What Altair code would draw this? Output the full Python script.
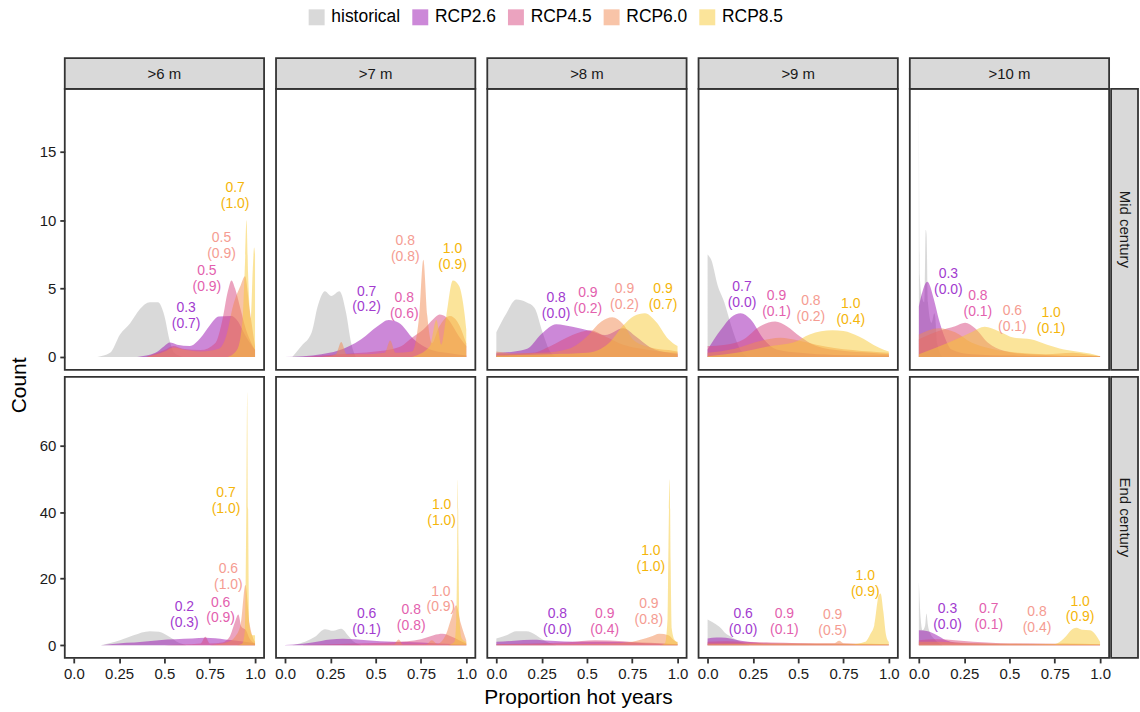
import altair as alt
import pandas as pd

THRESHOLDS = [">6 m", ">7 m", ">8 m", ">9 m", ">10 m"]
PERIODS = ["Mid century", "End century"]
SCENARIOS = ["historical", "RCP2.6", "RCP4.5", "RCP6.0", "RCP8.5"]
FILL_COLORS = ["#b3b3b3", "#9911b1", "#d7477f", "#f18951", "#f7c935"]
TEXT_COLORS = {"RCP2.6": "#a23bcf", "RCP4.5": "#e35fae", "RCP6.0": "#f59c92", "RCP8.5": "#f5b50a"}
Y_DOMAINS = {"Mid century": [-0.95, 19.6], "End century": [-3.85, 80.6]}
Y_TICKS = {"Mid century": [0, 5, 10, 15], "End century": [0, 20, 40, 60]}
X_TICKS = [0, 0.25, 0.5, 0.75, 1.0]

# ---- density curves: scenario -> (x values, counts) ----
MID_6 = {
    "historical": ([0.13, 0.2, 0.255, 0.31, 0.365, 0.42, 0.464, 0.5, 0.527, 0.554, 0.6],
                   [0, 0.3, 1.65, 2.45, 3.5, 4.0, 4.0, 3.0, 1.3, 0.3, 0]),
    "RCP2.6": ([0.35, 0.45, 0.5, 0.53, 0.57, 0.64, 0.7, 0.75, 0.8, 0.87, 0.9, 0.95, 1.0],
               [0, 0.3, 0.8, 1.05, 0.9, 0.8, 1.4, 2.3, 2.95, 3.0, 2.7, 1.5, 0.5]),
    "RCP4.5": ([0.4, 0.5, 0.55, 0.6, 0.7, 0.78, 0.82, 0.85, 0.87, 0.89, 0.92, 0.95, 0.98, 1.0],
               [0, 0.5, 0.8, 0.6, 0.5, 1.0, 2.7, 4.8, 5.6, 5.0, 3.5, 2.0, 1.0, 0.5]),
    "RCP6.0": ([0.4, 0.5, 0.55, 0.62, 0.7, 0.8, 0.84, 0.88, 0.92, 0.945, 0.97, 1.0],
               [0, 0.4, 0.7, 0.5, 0.4, 0.6, 1.5, 3.8, 5.2, 5.9, 3.5, 0.8]),
    "RCP8.5": ([0.85, 0.9, 0.93, 0.945, 0.953, 0.962, 0.976, 0.988, 0.995, 1.0],
               [0, 0.5, 2.5, 7.0, 10.0, 6.0, 2.8, 6.5, 8.0, 7.5]),
}
MID_7 = {
    "historical": ([0.04, 0.09, 0.147, 0.18, 0.22, 0.255, 0.30, 0.337, 0.364, 0.39],
                   [0, 0.8, 1.8, 3.7, 4.8, 4.45, 4.8, 3.2, 1.05, 0]),
    "RCP2.6": ([0.0, 0.1, 0.2, 0.29, 0.42, 0.51, 0.572, 0.627, 0.71, 0.8, 0.89, 1.0],
               [0, 0.05, 0.2, 0.45, 1.3, 2.25, 2.7, 2.5, 1.3, 0.55, 0.3, 0.1]),
    "RCP4.5": ([0.1, 0.3, 0.5, 0.6, 0.654, 0.70, 0.763, 0.82, 0.853, 0.89, 0.926, 0.96, 1.0],
               [0, 0.2, 0.4, 0.6, 0.9, 1.4, 2.0, 2.8, 3.1, 2.9, 2.25, 1.5, 0.8]),
    "RCP6.0": ([0.2, 0.28, 0.31, 0.34, 0.45, 0.55, 0.58, 0.61, 0.7, 0.74, 0.763, 0.785, 0.81, 0.85, 0.91, 0.95, 1.0],
               [0, 0.2, 1.1, 0.2, 0.2, 0.3, 1.2, 0.3, 0.4, 3.0, 7.1, 3.0, 1.0, 2.2, 3.0, 2.6, 1.0]),
    "RCP8.5": ([0.7, 0.8, 0.835, 0.862, 0.89, 0.926, 0.96, 0.99, 1.0],
               [0, 0.8, 2.7, 0.9, 3.0, 5.6, 5.2, 3.2, 2.0]),
}
MID_8 = {
    "historical": ([0.0, 0.056, 0.11, 0.165, 0.21, 0.255, 0.29, 0.33],
                   [1.8, 3.2, 4.2, 4.0, 3.6, 1.8, 0.55, 0]),
    "RCP2.6": ([0.0, 0.1, 0.17, 0.25, 0.33, 0.42, 0.52, 0.6, 0.7, 0.77, 0.85, 0.95, 1.0],
               [0.3, 0.4, 0.6, 1.7, 2.4, 2.2, 1.9, 1.6, 2.1, 1.5, 0.7, 0.3, 0.2]),
    "RCP4.5": ([0.0, 0.2, 0.3, 0.42, 0.52, 0.6, 0.7, 0.8, 0.9, 1.0],
               [0.2, 0.3, 0.8, 1.6, 1.95, 1.5, 0.9, 0.6, 0.4, 0.3]),
    "RCP6.0": ([0.0, 0.1, 0.25, 0.4, 0.5, 0.58, 0.64, 0.7, 0.76, 0.85, 0.95, 1.0],
               [0.4, 0.25, 0.3, 0.6, 1.5, 2.6, 2.9, 2.4, 1.2, 0.7, 0.5, 0.4]),
    "RCP8.5": ([0.0, 0.3, 0.5, 0.62, 0.7, 0.76, 0.82, 0.88, 0.95, 1.0],
               [0.1, 0.2, 0.3, 1.0, 2.3, 3.0, 3.2, 2.6, 1.3, 0.8]),
}
MID_9 = {
    "historical": ([0.0, 0.02, 0.056, 0.092, 0.13, 0.18, 0.22],
                   [7.5, 7.1, 5.2, 4.0, 2.3, 0.55, 0]),
    "RCP2.6": ([0.0, 0.074, 0.13, 0.183, 0.237, 0.31, 0.38, 0.51, 0.7, 1.0],
               [0.55, 2.0, 2.9, 3.2, 2.75, 1.3, 0.55, 0.3, 0.15, 0.1]),
    "RCP4.5": ([0.0, 0.1, 0.2, 0.29, 0.373, 0.437, 0.51, 0.6, 0.745, 0.9, 1.0],
               [0.8, 0.9, 1.3, 2.25, 2.6, 2.25, 1.5, 0.8, 0.45, 0.3, 0.2]),
    "RCP6.0": ([0.0, 0.15, 0.3, 0.4, 0.5, 0.6, 0.8, 1.0],
               [0.3, 0.6, 1.2, 1.4, 1.2, 0.9, 0.5, 0.3]),
    "RCP8.5": ([0.0, 0.2, 0.35, 0.473, 0.563, 0.69, 0.75, 0.835, 0.944, 1.0],
               [0.05, 0.4, 0.8, 1.05, 1.65, 1.95, 1.9, 1.5, 0.7, 0.4]),
}
MID_10 = {
    "historical": ([0.0, 0.005, 0.015, 0.03, 0.038, 0.042, 0.05, 0.07, 0.085, 0.09, 0.1, 0.13],
                   [18.6, 6.0, 4.5, 4.0, 9.3, 9.0, 4.0, 2.5, 3.2, 3.0, 1.0, 0]),
    "RCP2.6": ([0.0, 0.047, 0.083, 0.11, 0.147, 0.18, 0.29, 0.5, 1.0],
               [3.7, 5.5, 4.2, 2.75, 1.3, 0.55, 0.2, 0.1, 0.05]),
    "RCP4.5": ([0.0, 0.11, 0.2, 0.255, 0.31, 0.38, 0.47, 0.6, 1.0],
               [1.3, 1.9, 2.25, 2.5, 2.1, 1.05, 0.45, 0.2, 0.05]),
    "RCP6.0": ([0.0, 0.11, 0.2, 0.29, 0.4, 0.55, 0.7, 0.85, 0.92, 1.0],
               [1.65, 2.1, 1.8, 1.05, 0.6, 0.3, 0.2, 0.3, 0.2, 0.05]),
    "RCP8.5": ([0.0, 0.165, 0.29, 0.364, 0.437, 0.527, 0.618, 0.708, 0.8, 0.87, 0.944, 1.0],
               [0.2, 1.05, 1.8, 2.2, 1.9, 1.4, 1.3, 0.9, 0.55, 0.4, 0.25, 0.05]),
}
END_6 = {
    "historical": ([0.147, 0.255, 0.33, 0.42, 0.47, 0.527, 0.58, 0.62],
                   [0, 1.5, 3.0, 4.2, 4.0, 2.5, 0.7, 0]),
    "RCP2.6": ([0.15, 0.2, 0.38, 0.47, 0.654, 0.726, 0.835, 0.944, 1.0],
               [0, 0.3, 1.0, 1.5, 2.0, 2.2, 1.7, 1.0, 0.5]),
    "RCP4.5": ([0.5, 0.6, 0.7, 0.726, 0.75, 0.82, 0.86, 0.89, 0.908, 0.925, 0.95, 0.97, 1.0],
               [0, 0.2, 0.5, 2.5, 0.5, 0.8, 2.5, 7.0, 9.2, 5.5, 4.5, 2.0, 0.5]),
    "RCP6.0": ([0.75, 0.853, 0.89, 0.922, 0.947, 0.97, 0.995, 1.0],
               [0, 1.0, 2.5, 6.5, 18.1, 6.5, 1.5, 1.0]),
    "RCP8.5": ([0.9, 0.93, 0.945, 0.952, 0.957, 0.962, 0.968, 0.985, 1.0],
               [0, 0.5, 5.0, 40.0, 76.0, 40.0, 6.0, 3.0, 3.0]),
}
END_7 = {
    "historical": ([0.04, 0.11, 0.165, 0.22, 0.265, 0.31, 0.346, 0.38, 0.42],
                   [0, 1.0, 2.5, 4.8, 4.3, 4.9, 3.0, 1.0, 0]),
    "RCP2.6": ([0.0, 0.05, 0.15, 0.25, 0.32, 0.45, 0.6, 0.75, 0.85, 1.0],
               [0.05, 0.2, 0.8, 1.7, 1.9, 1.5, 1.0, 0.8, 0.5, 0.2]),
    "RCP4.5": ([0.1, 0.2, 0.4, 0.6, 0.75, 0.82, 0.87, 0.92, 0.96, 1.0],
               [0.05, 0.2, 0.5, 0.9, 1.8, 3.0, 3.4, 2.5, 1.5, 0.5]),
    "RCP6.0": ([0.3, 0.6, 0.627, 0.65, 0.78, 0.81, 0.84, 0.89, 0.917, 0.944, 0.97, 1.0],
               [0, 0.2, 1.7, 0.2, 0.3, 1.5, 0.4, 3.5, 8.0, 12.0, 6.5, 1.5]),
    "RCP8.5": ([0.9, 0.935, 0.945, 0.95, 0.953, 0.957, 0.962, 0.975, 1.0],
               [0, 1.0, 8.0, 30.0, 49.8, 30.0, 8.0, 2.0, 1.0]),
}
END_8 = {
    "historical": ([0.0, 0.056, 0.11, 0.165, 0.22, 0.255, 0.29, 0.33],
                   [2.0, 3.0, 4.2, 4.2, 3.0, 1.7, 0.7, 0]),
    "RCP2.6": ([0.0, 0.1, 0.2, 0.3, 0.45, 0.6, 0.75, 0.9, 1.0],
               [1.0, 1.3, 1.6, 1.3, 1.0, 1.0, 0.8, 0.4, 0.2]),
    "RCP4.5": ([0.0, 0.2, 0.4, 0.545, 0.7, 0.8, 0.9, 1.0],
               [0.3, 0.5, 0.9, 1.5, 1.2, 0.8, 0.6, 0.3]),
    "RCP6.0": ([0.0, 0.4, 0.6, 0.75, 0.85, 0.9, 0.95, 0.98, 1.0],
               [0.2, 0.3, 0.4, 1.0, 2.5, 3.4, 3.0, 1.5, 0.8]),
    "RCP8.5": ([0.9, 0.93, 0.945, 0.95, 0.957, 0.962, 0.968, 0.985, 1.0],
               [0, 0.5, 8.0, 30.0, 49.8, 25.0, 5.0, 1.5, 1.0]),
}
END_9 = {
    "historical": ([0.0, 0.03, 0.065, 0.1, 0.13, 0.18, 0.23],
                   [7.7, 6.8, 5.5, 3.5, 2.5, 1.0, 0]),
    "RCP2.6": ([0.0, 0.05, 0.1, 0.15, 0.22, 0.3, 0.5, 0.7, 1.0],
               [2.0, 2.3, 2.2, 1.7, 1.0, 0.6, 0.4, 0.3, 0.2]),
    "RCP4.5": ([0.0, 0.1, 0.2, 0.35, 0.5, 0.7, 1.0],
               [1.0, 1.2, 1.0, 0.8, 0.6, 0.5, 0.2]),
    "RCP6.0": ([0.0, 0.2, 0.5, 0.7, 0.726, 0.75, 0.9, 1.0],
               [0.5, 0.5, 0.6, 0.6, 1.3, 0.6, 0.4, 0.2]),
    "RCP8.5": ([0.0, 0.5, 0.8, 0.87, 0.9, 0.92, 0.945, 0.955, 0.97, 0.985, 1.0],
               [0.1, 0.2, 0.3, 1.0, 3.5, 6.0, 15.0, 15.5, 10.0, 3.0, 1.0]),
}
END_10 = {
    "historical": ([0.0, 0.01, 0.02, 0.035, 0.042, 0.05, 0.056, 0.092, 0.13],
                   [18.9, 8.0, 4.5, 6.0, 9.5, 6.0, 4.5, 1.5, 0]),
    "RCP2.6": ([0.0, 0.05, 0.1, 0.15, 0.2, 0.3, 0.5, 1.0],
               [4.5, 4.2, 3.0, 1.5, 0.8, 0.5, 0.3, 0.1]),
    "RCP4.5": ([0.0, 0.1, 0.2, 0.3, 0.4, 0.5, 0.7, 1.0],
               [1.5, 1.8, 1.5, 1.0, 0.7, 0.5, 0.4, 0.2]),
    "RCP6.0": ([0.0, 0.1, 0.2, 0.35, 0.5, 0.7, 0.8, 1.0],
               [1.0, 1.0, 0.8, 0.6, 0.5, 0.4, 0.5, 0.3]),
    "RCP8.5": ([0.0, 0.5, 0.75, 0.8, 0.853, 0.87, 0.9, 0.944, 0.97, 1.0],
               [0.1, 0.2, 0.3, 2.0, 5.0, 5.2, 4.6, 4.5, 3.5, 1.0]),
}

# ---- annotations: scenario -> (x, count, text) ----
LAB_MID_6 = {"RCP2.6": (0.62, 3.0, "0.3\n(0.7)"), "RCP4.5": (0.734, 5.7, "0.5\n(0.9)"),
             "RCP6.0": (0.815, 8.1, "0.5\n(0.9)"), "RCP8.5": (0.89, 11.8, "0.7\n(1.0)")}
LAB_MID_7 = {"RCP2.6": (0.45, 4.2, "0.7\n(0.2)"), "RCP4.5": (0.658, 3.7, "0.8\n(0.6)"),
             "RCP6.0": (0.663, 7.9, "0.8\n(0.8)"), "RCP8.5": (0.924, 7.3, "1.0\n(0.9)")}
LAB_MID_8 = {"RCP2.6": (0.33, 3.7, "0.8\n(0.0)"), "RCP4.5": (0.505, 4.1, "0.9\n(0.2)"),
             "RCP6.0": (0.707, 4.4, "0.9\n(0.2)"), "RCP8.5": (0.92, 4.4, "0.9\n(0.7)")}
LAB_MID_9 = {"RCP2.6": (0.19, 4.5, "0.7\n(0.0)"), "RCP4.5": (0.38, 3.9, "0.9\n(0.1)"),
             "RCP6.0": (0.57, 3.5, "0.8\n(0.2)"), "RCP8.5": (0.79, 3.3, "1.0\n(0.4)")}
LAB_MID_10 = {"RCP2.6": (0.163, 5.5, "0.3\n(0.0)"), "RCP4.5": (0.326, 3.9, "0.8\n(0.1)"),
              "RCP6.0": (0.516, 2.8, "0.6\n(0.1)"), "RCP8.5": (0.73, 2.6, "1.0\n(0.1)")}
LAB_END_6 = {"RCP2.6": (0.61, 9.0, "0.2\n(0.3)"), "RCP4.5": (0.81, 10.4, "0.6\n(0.9)"),
             "RCP6.0": (0.853, 20.6, "0.6\n(1.0)"), "RCP8.5": (0.84, 43.3, "0.7\n(1.0)")}
LAB_END_7 = {"RCP2.6": (0.45, 6.9, "0.6\n(0.1)"), "RCP4.5": (0.696, 8.1, "0.8\n(0.8)"),
             "RCP6.0": (0.86, 13.7, "1.0\n(0.9)"), "RCP8.5": (0.864, 39.7, "1.0\n(1.0)")}
LAB_END_8 = {"RCP2.6": (0.337, 6.9, "0.8\n(0.0)"), "RCP4.5": (0.598, 6.9, "0.9\n(0.4)"),
             "RCP6.0": (0.842, 9.9, "0.9\n(0.8)"), "RCP8.5": (0.853, 26.0, "1.0\n(1.0)")}
LAB_END_9 = {"RCP2.6": (0.196, 6.9, "0.6\n(0.0)"), "RCP4.5": (0.424, 6.9, "0.9\n(0.1)"),
             "RCP6.0": (0.69, 6.6, "0.9\n(0.5)"), "RCP8.5": (0.87, 18.5, "1.0\n(0.9)")}
LAB_END_10 = {"RCP2.6": (0.158, 8.4, "0.3\n(0.0)"), "RCP4.5": (0.386, 8.4, "0.7\n(0.1)"),
              "RCP6.0": (0.652, 7.5, "0.8\n(0.4)"), "RCP8.5": (0.89, 10.7, "1.0\n(0.9)")}

CURVES = {
    ("Mid century", ">6 m"): MID_6, ("Mid century", ">7 m"): MID_7, ("Mid century", ">8 m"): MID_8,
    ("Mid century", ">9 m"): MID_9, ("Mid century", ">10 m"): MID_10,
    ("End century", ">6 m"): END_6, ("End century", ">7 m"): END_7, ("End century", ">8 m"): END_8,
    ("End century", ">9 m"): END_9, ("End century", ">10 m"): END_10,
}
LABELS = {
    ("Mid century", ">6 m"): LAB_MID_6, ("Mid century", ">7 m"): LAB_MID_7, ("Mid century", ">8 m"): LAB_MID_8,
    ("Mid century", ">9 m"): LAB_MID_9, ("Mid century", ">10 m"): LAB_MID_10,
    ("End century", ">6 m"): LAB_END_6, ("End century", ">7 m"): LAB_END_7, ("End century", ">8 m"): LAB_END_8,
    ("End century", ">9 m"): LAB_END_9, ("End century", ">10 m"): LAB_END_10,
}

rows = []
for (period, thr), d in CURVES.items():
    for s, (xs, ys) in d.items():
        for x, y in zip(xs, ys):
            rows.append({"period": period, "threshold": thr, "scenario": s, "x": x, "y": y})
curves_df = pd.DataFrame(rows)

lrows = []
for (period, thr), d in LABELS.items():
    for s, (x, y, t) in d.items():
        lrows.append({"period": period, "threshold": thr, "scenario": s, "x": x, "y": y, "label": t})
labels_df = pd.DataFrame(lrows)

PW, PH = 200, 282
color_scale = alt.Scale(domain=SCENARIOS, range=FILL_COLORS)
legend = alt.Legend(orient="none", legendX=244, legendY=-81, direction="horizontal", title=None,
                    symbolType="square", symbolSize=256, symbolOpacity=0.5, symbolStrokeWidth=0,
                    labelFontSize=17.5, labelOffset=6, columnPadding=11, labelColor="#000000")
X_LABEL_EXPR = ("datum.value == 0 || datum.value == 1 ? format(datum.value, '.1f') "
                ": format(datum.value, '.2~f')")


def make_panel(r, c):
    period, thr = PERIODS[r], THRESHOLDS[c]
    xscale = alt.Scale(domain=[-0.05, 1.05], nice=False, zero=False)
    yscale = alt.Scale(domain=Y_DOMAINS[period], nice=False, zero=False)

    if r == 1:
        if c == 2:
            xaxis = alt.Axis(values=X_TICKS, labelExpr=X_LABEL_EXPR, titleX=91, titleY=46,
                             titleBaseline="alphabetic", titleAlign="center")
            X = alt.X("x:Q", scale=xscale, axis=xaxis, title="Proportion hot years")
        else:
            xaxis = alt.Axis(values=X_TICKS, labelExpr=X_LABEL_EXPR)
            X = alt.X("x:Q", scale=xscale, axis=xaxis, title=None)
    else:
        X = alt.X("x:Q", scale=xscale, axis=None)

    if c == 0:
        if r == 0:
            yaxis = alt.Axis(values=Y_TICKS[period], titleX=-45, titleY=297, titleAngle=270,
                             titleBaseline="middle", titleAlign="center")
            Y = alt.Y("y:Q", scale=yscale, axis=yaxis, stack=None, title="Count")
        else:
            yaxis = alt.Axis(values=Y_TICKS[period])
            Y = alt.Y("y:Q", scale=yscale, axis=yaxis, stack=None, title=None)
    else:
        Y = alt.Y("y:Q", scale=yscale, axis=None, stack=None)

    layers = []
    if r == 0:
        sdf = pd.DataFrame({"label": [thr]})
        layers.append(alt.Chart(sdf).mark_rect(fill="#d9d9d9", stroke="#333333", strokeWidth=1.8).encode(
            x=alt.value(0), x2=alt.value(PW), y=alt.value(-31), y2=alt.value(0)))
        layers.append(alt.Chart(sdf).mark_text(fontSize=15, color="#1a1a1a", align="center",
                                               baseline="middle").encode(
            x=alt.value(PW / 2), y=alt.value(-15), text="label:N"))
    if c == 4:
        pdf = pd.DataFrame({"label": [period]})
        layers.append(alt.Chart(pdf).mark_rect(fill="#d9d9d9", stroke="#333333", strokeWidth=1.8).encode(
            x=alt.value(PW + 2), x2=alt.value(PW + 29), y=alt.value(0), y2=alt.value(PH)))
        layers.append(alt.Chart(pdf).mark_text(fontSize=15, color="#1a1a1a", align="center",
                                               baseline="middle", angle=90).encode(
            x=alt.value(PW + 16), y=alt.value(PH / 2), text="label:N"))

    base = alt.Chart(curves_df).transform_filter(
        (alt.datum.period == period) & (alt.datum.threshold == thr))
    for s in SCENARIOS:
        layers.append(base.transform_filter(alt.datum.scenario == s).mark_area(
            opacity=0.5, interpolate="monotone").encode(
            x=X, y=Y, y2=alt.datum(0),
            color=alt.Color("scenario:N", scale=color_scale, legend=legend)))

    lbase = alt.Chart(labels_df).transform_filter(
        (alt.datum.period == period) & (alt.datum.threshold == thr))
    for s in SCENARIOS[1:]:
        layers.append(lbase.transform_filter(alt.datum.scenario == s).mark_text(
            fontSize=14, lineBreak="\n", lineHeight=16, align="center", baseline="middle", dy=-8,
            color=TEXT_COLORS[s]).encode(x=X, y=Y, text="label:N"))

    return alt.layer(*layers).properties(width=PW, height=PH)


cells = [make_panel(r, c) for r in range(2) for c in range(5)]

chart = alt.concat(*cells, columns=5, spacing={"row": 7, "column": 12}, bounds="flush").properties(
    padding={"left": 8, "top": 7, "right": 0, "bottom": 0}
).configure(
    font="Liberation Sans"
).configure_view(
    stroke="#333333", strokeWidth=1.8
).configure_axis(
    grid=False, domain=False, tickColor="#333333", tickWidth=1.8, tickSize=5,
    labelFontSize=15, labelColor="#1a1a1a", labelPadding=4,
    titleFontSize=21, titleFontWeight="normal", titleColor="#000000"
)

chart.save("out.html", embed_options={"renderer": "svg", "actions": False})
